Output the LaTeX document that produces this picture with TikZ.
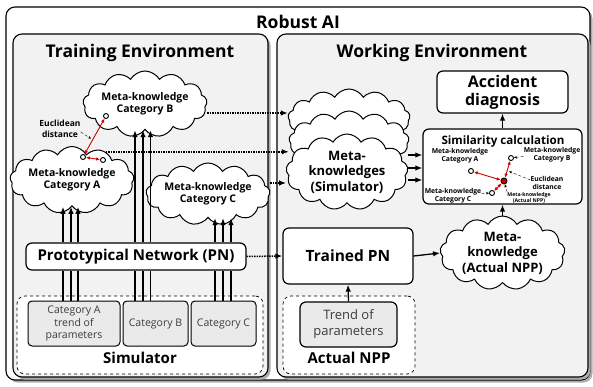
\documentclass[tikz,border=0pt]{standalone}
\usepackage{fontspec}
\setmainfont{Open Sans}
\usetikzlibrary{shapes.symbols,shadows,arrows.meta,calc}
\definecolor{panelgray}{HTML}{F2F2F2}
\definecolor{catgray}{HTML}{EAEAEA}
\definecolor{cattext}{HTML}{3C3C3C}
\definecolor{distred}{HTML}{D40000}
\tikzset{
  panel/.style={draw, line width=1.1pt, rounded corners=9pt, inner sep=0pt, fill=panelgray,
    drop shadow={shadow xshift=2.5pt, shadow yshift=-2.5pt, fill=gray!65, opacity=1}},
  ptitle/.style={font=\fontsize{17.5}{20}\selectfont\bfseries},
  box/.style={draw, line width=1.2pt, rounded corners=6pt, fill=white, align=center, inner sep=0pt},
  dashbox/.style={draw, dashed, line width=0.7pt, rounded corners=8pt, fill=white, inner sep=0pt},
  catbox/.style={draw, line width=1pt, rounded corners=4pt, fill=catgray, align=center, inner sep=0pt,
    minimum height=45pt, text=cattext, font=\fontsize{10.5}{12.5}\selectfont},
  sublbl/.style={font=\fontsize{15}{17}\selectfont\bfseries},
  mkcloud/.style={draw, cloud, cloud puffs=13, cloud puff arc=120, cloud ignores aspect, line width=1pt,
    fill=white, align=center, inner sep=0pt},
  dot/.style={draw, circle, line width=0.9pt, fill=white, inner sep=0pt, minimum size=5pt},
  dist/.style={draw=distred, line width=0.9pt, {Latex[length=4pt,width=3.5pt]}-{Latex[length=4pt,width=3.5pt]}},
  pointer/.style={draw, densely dashed, line width=0.4pt, -{Stealth[length=3pt,width=2.5pt]}},
  flow/.style={line width=1.3pt, -{Latex[length=7pt,width=5.5pt]}},
  plain/.style={line width=1.3pt},
  dotflow/.style={line width=1.5pt, densely dotted, -{Latex[length=7pt,width=5.5pt]}},
  small/.style={align=center, inner sep=0pt, font=\fontsize{6.8}{7.6}\selectfont\bfseries}
}
\begin{document}
\begin{tikzpicture}[x=1pt,y=-1pt]
\useasboundingbox (0,0) rectangle (593,387);

\node[panel, fill=white, minimum width=584pt, minimum height=373pt] (robust) at (298,193.5) {};
\node[ptitle] (robustlbl) at (298,22) {Robust AI};
\node[panel, minimum width=255pt, minimum height=343pt] (train) at (140.5,205.5) {};
\node[panel, minimum width=311pt, minimum height=343pt] (work) at (432.5,205.5) {};
\node[ptitle] (trainlbl) at (140,53) {Training Environment};
\node[ptitle] (worklbl) at (432,53) {Working Environment};

\node[dashbox, minimum width=246pt, minimum height=78pt] (simu) at (140,335) {};
\node[catbox, minimum width=92pt] (catA) at (74,323.5) {Category A\\trend of\\parameters};
\node[catbox, minimum width=65pt] (catB) at (155.5,323.5) {Category B};
\node[catbox, minimum width=65pt] (catC) at (223.5,323.5) {Category C};
\node[sublbl] (simulbl) at (140,358) {Simulator};

\node[box, minimum width=220pt, minimum height=27pt, font=\fontsize{15}{17}\selectfont\bfseries] (pn) at (136,256.5) {Prototypical Network (PN)};

\node[mkcloud, minimum width=114pt, minimum height=66pt, font=\fontsize{10.5}{11.5}\selectfont\bfseries] (cloudB) at (145,104) {Meta-knowledge\\Category B};
\node[mkcloud, minimum width=113pt, minimum height=67pt, font=\fontsize{10.5}{11.5}\selectfont\bfseries] (cloudA) at (72,180) {Meta-knowledge\\Category A};
\node[mkcloud, minimum width=113pt, minimum height=62pt, font=\fontsize{10.5}{11.5}\selectfont\bfseries] (cloudC) at (208,194) {Meta-knowledge\\Category C};

\node[dot] (ptB) at (106,116) {};
\node[dot] (ptA) at (83,157) {};
\node[dot] (ptA2) at (103,160) {};
\draw[dist] (ptA) -- (ptB);
\draw[dist] (ptA) -- (ptA2);
\node[small, font=\fontsize{8.5}{11}\selectfont\bfseries] (euclA) at (60,129) {Euclidean\\distance};
\draw[pointer, shorten >=2pt] ([yshift=-3pt]euclA.east) -- ($(ptA)!0.42!(ptB)$);

\draw[plain] ([xshift=-11pt]catA.north) -- ([xshift=-11pt]catA.north |- pn.south);
\draw[plain] ([xshift=-3pt]catA.north) -- ([xshift=-3pt]catA.north |- pn.south);
\draw[plain] ([xshift=4pt]catA.north) -- ([xshift=4pt]catA.north |- pn.south);
\draw[flow] ([xshift=-11pt]catA.north |- pn.north) -- ([xshift=-11pt]catA.north |- cloudA.south);
\draw[flow] ([xshift=-3pt]catA.north |- pn.north) -- ([xshift=-3pt]catA.north |- cloudA.south);
\draw[flow] ([xshift=4pt]catA.north |- pn.north) -- ([xshift=4pt]catA.north |- cloudA.south);
\draw[plain] ([xshift=-20.5pt]catB.north) -- ([xshift=-20.5pt]catB.north |- pn.south);
\draw[plain] ([xshift=-12.5pt]catB.north) -- ([xshift=-12.5pt]catB.north |- pn.south);
\draw[plain] ([xshift=-5pt]catB.north) -- ([xshift=-5pt]catB.north |- pn.south);
\draw[flow] ([xshift=-20.5pt]catB.north |- pn.north) -- ([xshift=-20.5pt]catB.north |- cloudB.south);
\draw[flow] ([xshift=-12.5pt]catB.north |- pn.north) -- ([xshift=-12.5pt]catB.north |- cloudB.south);
\draw[flow] ([xshift=-5pt]catB.north |- pn.north) -- ([xshift=-5pt]catB.north |- cloudB.south);
\draw[plain] ([xshift=-8.5pt]catC.north) -- ([xshift=-8.5pt]catC.north |- pn.south);
\draw[plain] ([xshift=-0.5pt]catC.north) -- ([xshift=-0.5pt]catC.north |- pn.south);
\draw[plain] ([xshift=7.5pt]catC.north) -- ([xshift=7.5pt]catC.north |- pn.south);
\draw[flow] ([xshift=-8.5pt]catC.north |- pn.north) -- ([xshift=-8.5pt]catC.north |- cloudC.south);
\draw[flow] ([xshift=-0.5pt]catC.north |- pn.north) -- ([xshift=-0.5pt]catC.north |- cloudC.south);
\draw[flow] ([xshift=7.5pt]catC.north |- pn.north) -- ([xshift=7.5pt]catC.north |- cloudC.south);

\node[mkcloud, minimum width=122pt, minimum height=58pt] (stackback) at (349,118) {};
\node[mkcloud, minimum width=120pt, minimum height=60pt] (stackmid) at (349,141) {};
\node[mkcloud, minimum width=122pt, minimum height=76pt, font=\fontsize{13}{15.5}\selectfont\bfseries] (stackfront) at (347,172) {Meta-\\knowledges\\(Simulator)};

\draw[dotflow] ([yshift=-9pt]cloudB.east) -- ([yshift=-9pt]cloudB.east -| stackback.west);
\draw[dotflow] (cloudA.40) -- (cloudA.40 -| stackmid.west);
\draw[dotflow] ([yshift=11pt]cloudC.east) -- ([yshift=11pt]cloudC.east -| stackfront.west);

\node[box, minimum width=131pt, minimum height=42pt, font=\fontsize{16}{18}\selectfont\bfseries] (acc) at (502.5,92) {Accident\\diagnosis};
\node[box, minimum width=159pt, minimum height=75pt] (simc) at (502.5,166.5) {};
\node[font=\fontsize{11.6}{13}\selectfont\bfseries, inner sep=0pt] (simclbl) at (503,141) {Similarity calculation};

\draw[flow] ([yshift=17pt]stackfront.east) -- ([yshift=17pt]stackfront.east -| simc.west);
\draw[flow] ([yshift=4pt]stackfront.east) -- ([yshift=4pt]stackfront.east -| simc.west);
\draw[flow] ([yshift=-8pt]stackfront.east) -- ([yshift=-8pt]stackfront.east -| simc.west);
\draw[flow] (simc.north) -- (acc.south);

\node[dot] (pA) at (471,171) {};
\node[dot] (pB) at (511,158) {};
\node[dot] (pC) at (492,193) {};
\node[dot, fill=distred, minimum size=6pt] (pN) at (504,181) {};
\draw[dist] (pN) -- (pA);
\draw[dist] (pN) -- (pB);
\draw[dist] (pN) -- (pC);
\node[small] (lblA) at (460,155.5) {Meta-knowledge\\Category A};
\node[small] (lblB) at (552,154.5) {Meta-knowledge\\Category B};
\node[small] (lblE) at (547,183) {Euclidean\\distance};
\node[small] (lblC) at (453,195.5) {Meta-knowledge\\Category C};
\node[small, font=\fontsize{5.2}{6.2}\selectfont\bfseries] (lblN) at (529,198) {Meta-knowledge\\(Actual NPP)};
\draw[pointer] ([yshift=-2pt]lblB.west) -- (pB);
\draw[pointer, shorten >=2pt] ([yshift=3pt]lblE.west) -- ($(pN)!0.45!(pB)$);
\draw[pointer] ([yshift=2pt]lblC.east) -- (pC);
\draw[pointer] (lblN.north west) -- (pN);

\node[box, minimum width=130pt, minimum height=56pt, font=\fontsize{15.5}{17}\selectfont\bfseries] (tpn) at (348,256) {Trained PN};
\node[mkcloud, minimum width=125pt, minimum height=73pt, font=\fontsize{13}{15.5}\selectfont\bfseries] (cact) at (502.5,253) {Meta-\\knowledge\\(Actual NPP)};
\draw[dotflow] (pn.east) -- (tpn.west);
\draw[flow] (tpn.east) -- (cact.west);
\draw[flow] (cact.north) -- (simc.south);

\node[dashbox, minimum width=132pt, minimum height=78pt] (actbox) at (349,335) {};
\node[box, fill=catgray, minimum width=97pt, minimum height=45pt, text=cattext, font=\fontsize{13}{16}\selectfont] (trend) at (348.5,324.5) {Trend of\\parameters};
\node[sublbl] (actlbl) at (349,358) {Actual NPP};
\draw[flow] (trend.north) -- (tpn.south);
\end{tikzpicture}
\end{document}
